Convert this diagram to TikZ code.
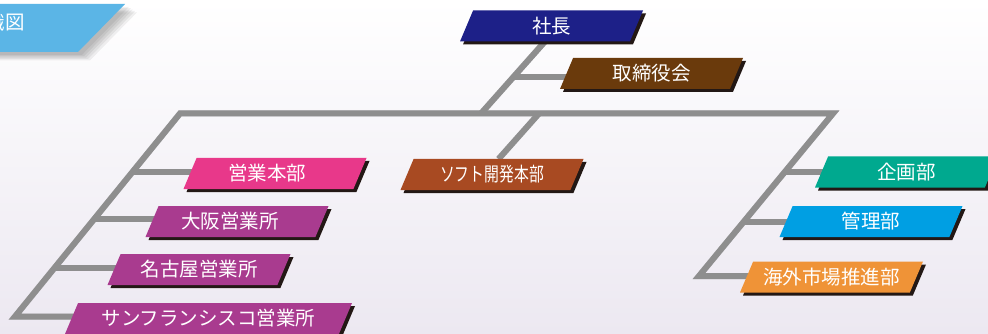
\documentclass[tikz,border=0pt]{standalone}
\usepackage{fontspec}
\newfontfamily\jp{Noto Sans CJK JP}
\newfontfamily\jpc[FakeStretch=0.76]{Noto Sans CJK JP}
\usetikzlibrary{shapes.geometric,shadows,calc}
\definecolor{cnavy}{HTML}{1D2088}
\definecolor{cbrown}{HTML}{6A3A0C}
\definecolor{cpink}{HTML}{E8388A}
\definecolor{cpurple}{HTML}{A93B8F}
\definecolor{crust}{HTML}{A84A22}
\definecolor{cteal}{HTML}{00A98F}
\definecolor{csky}{HTML}{009FE3}
\definecolor{corange}{HTML}{EF9337}
\definecolor{cline}{HTML}{8E8E8E}
\definecolor{clineshadow}{HTML}{D2D1D6}
\definecolor{cnodeshadow}{HTML}{231815}
\definecolor{cbanner}{HTML}{5BB5E6}
\definecolor{cbgbottom}{HTML}{ECE8F1}
\pgfdeclarelayer{bgbg}
\pgfdeclarelayer{bg}
\pgfsetlayers{bgbg,bg,main}
\tikzset{
  box/.style={trapezium, trapezium left angle=54, trapezium right angle=126,
    trapezium stretches body=true, minimum width=183pt, minimum height=31pt,
    inner sep=0pt, outer sep=0pt, text=white,
    font=\jp\fontsize{19.5}{22}\selectfont,
    drop shadow={shadow xshift=3pt, shadow yshift=-3pt, fill=cnodeshadow, opacity=1}},
  conn/.style={draw=cline, line width=6pt, miter limit=10},
  connsh/.style={draw=clineshadow, line width=6pt, shift={(3,4)}, miter limit=10},
}
\begin{document}
\begin{tikzpicture}[x=1pt,y=-1pt]
\useasboundingbox (0,0) rectangle (988,334);
\begin{pgfonlayer}{bgbg}
  \shade[top color=white, bottom color=cbgbottom] (0,0) rectangle (988,334);
\end{pgfonlayer}
\clip (0,0) rectangle (988,334);

% title banner with soft shadow
\foreach \d in {12,10,8,6,4}{
  \fill[black, opacity=0.06] (0,4+\d*0.7) -- (125+\d,4+\d*0.7) -- (78+\d,52+\d*0.7) -- (0,52+\d*0.7) -- cycle;
}
\fill[cbanner] (-2,4) -- (125,4) -- (78,52) -- (-2,52) -- cycle;
\node[anchor=east, inner sep=0pt, text=white, font=\jp\fontsize{19.5}{22}\selectfont] (title) at (25,22) {組織図};

% nodes
\node[box, fill=cnavy] (ceo) at (551.5,26) {社長};
\node[box, fill=cbrown] (board) at (651.5,73.5) {取締役会};
\node[box, fill=cpink] (sales) at (275,173.5) {\hspace*{-16pt}営業本部};
\node[box, fill=cpurple] (osaka) at (237,221.5) {\hspace*{-14pt}大阪営業所};
\node[box, fill=cpurple] (nagoya) at (199,269.5) {名古屋営業所};
\node[box, fill=cpurple, minimum width=287pt] (sf) at (208.5,318.5) {サンフランシスコ営業所};
\node[box, fill=crust, font=\jpc\fontsize{19.5}{22}\selectfont] (soft) at (492,174.5) {ソフト開発本部};
\node[box, fill=cteal] (plan) at (906.5,172) {企画部};
\node[box, fill=csky] (admin) at (871,221.5) {管理部};
\node[box, fill=corange] (ovs) at (831.5,277) {海外市場推進部};

% junction coordinates
\coordinate (jT) at (481,113.5);
\coordinate (barL) at (180,113.5);
\coordinate (barR) at (833,113.5);
\coordinate (botL) at (15,316.5);
\coordinate (botR) at (699,276);
\coordinate (jSW) at (539,113.5);
\coordinate (jB) at ($(ceo.bottom side)!0.49!(jT)$);
\coordinate (jS1) at ($(barL)!0.29!(botL)$);
\coordinate (jS2) at ($(barL)!0.522!(botL)$);
\coordinate (jS3) at ($(barL)!0.759!(botL)$);
\coordinate (jP) at ($(barR)!0.357!(botR)$);
\coordinate (jA) at ($(barR)!0.665!(botR)$);

\begin{pgfonlayer}{bg}
  \foreach \st in {connsh,conn}{
    \draw[\st] (ceo.bottom side) -- (jT);
    \draw[\st] (jB) -- (jB -| board.center);
    \draw[\st] (botL -| sf.center) -- (botL) -- (barL) -- (barR) -- (botR) -- (botR -| ovs.center);
    \draw[\st] (jSW) -- (soft.top side);
    \draw[\st] (jS1) -- (jS1 -| sales.center);
    \draw[\st] (jS2) -- (jS2 -| osaka.center);
    \draw[\st] (jS3) -- (jS3 -| nagoya.center);
    \draw[\st] (jP) -- (jP -| plan.center);
    \draw[\st] (jA) -- (jA -| admin.center);
  }
\end{pgfonlayer}
\end{tikzpicture}
\end{document}
